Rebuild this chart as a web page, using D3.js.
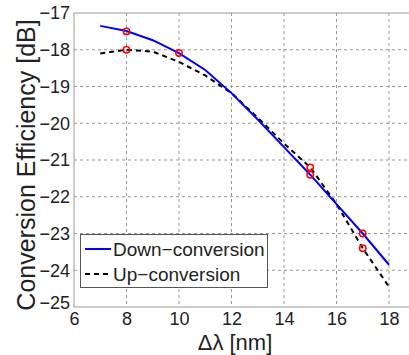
<!DOCTYPE html>
<html>
<head>
<meta charset="utf-8">
<script src="https://cdn.jsdelivr.net/npm/d3@7"></script>
<style>
  body { margin: 0; background: #fff; }
  svg { font-family: "Liberation Sans", Arial, sans-serif; }
</style>
</head>
<body>
<svg width="409" height="355"></svg>
<script>
// data
var xs = [7, 8, 9, 10, 11, 12, 13, 14, 15, 16, 17, 18];
var downConv = [-17.35, -17.49, -17.74, -18.09, -18.55, -19.18, -19.9, -20.65, -21.4, -22.2, -23.0, -23.85];
var upConv = [-18.1, -18.0, -18.05, -18.33, -18.7, -19.18, -19.85, -20.55, -21.2, -22.2, -23.4, -24.45];
var downMarkX = [8, 10, 15, 17];
var downMarkY = [-17.5, -18.09, -21.4, -23.0];
var upMarkX = [8, 15, 17];
var upMarkY = [-18.0, -21.2, -23.4];
var xTicks = [6, 8, 10, 12, 14, 16, 18];
var yTicks = [-17, -18, -19, -20, -21, -22, -23, -24, -25];

var svg = d3.select("svg");

// axis runs to 20, the right part is cut by the frame
var x = d3.scaleLinear().domain([6, 20]).range([74, 441.5]);
var y = d3.scaleLinear().domain([-25, -17]).range([307, 13]);

var fmt = function(d) { return String(d).replace("-", "\u2212"); };

// grid
var grid = svg.append("g");
grid.selectAll(".gx").data(xTicks.slice(1)).enter().append("line")
    .attr("x1", function(d) { return x(d); }).attr("x2", function(d) { return x(d); })
    .attr("y1", y(-17)).attr("y2", y(-25))
    .attr("stroke", "#999").attr("stroke-width", 1).attr("stroke-dasharray", "3,3");
grid.selectAll(".gy").data(yTicks.slice(1, -1)).enter().append("line")
    .attr("x1", x(6)).attr("x2", x(20))
    .attr("y1", function(d) { return y(d); }).attr("y2", function(d) { return y(d); })
    .attr("stroke", "#999").attr("stroke-width", 1).attr("stroke-dasharray", "3,3");

// box
svg.append("rect")
    .attr("x", x(6)).attr("y", y(-17))
    .attr("width", x(20) - x(6)).attr("height", y(-25) - y(-17))
    .attr("fill", "none").attr("stroke", "#999").attr("stroke-width", 1);

// axes
var xAxis = svg.append("g").attr("transform", "translate(0," + y(-25) + ")")
    .call(d3.axisBottom(x).tickValues(xTicks).tickSize(0).tickPadding(4).tickFormat(fmt));
var yAxis = svg.append("g").attr("transform", "translate(" + x(6) + ",0)")
    .call(d3.axisLeft(y).tickValues(yTicks).tickSize(0).tickPadding(4).tickFormat(fmt));
[xAxis, yAxis].forEach(function(a) {
  a.select(".domain").remove();
  a.selectAll("text").attr("font-size", 18).attr("fill", "#222")
    .attr("font-family", "Liberation Sans, Arial, sans-serif");
});
xAxis.selectAll("text").attr("dy", "0.8em");
yAxis.selectAll("text").filter(function(d) { return d === -25; }).attr("dy", "0.1em");

// lines
var line = d3.line()
    .x(function(d) { return x(d[0]); })
    .y(function(d) { return y(d[1]); });

svg.append("path")
    .datum(d3.zip(xs, upConv))
    .attr("d", line)
    .attr("fill", "none").attr("stroke", "#000").attr("stroke-width", 2)
    .attr("stroke-dasharray", "5,4");

svg.append("path")
    .datum(d3.zip(xs, downConv))
    .attr("d", line)
    .attr("fill", "none").attr("stroke", "#0000ff").attr("stroke-width", 2);

// markers
var marks = d3.zip(downMarkX, downMarkY).concat(d3.zip(upMarkX, upMarkY));
svg.selectAll(".mk").data(marks).enter().append("circle")
    .attr("cx", function(d) { return x(d[0]); })
    .attr("cy", function(d) { return y(d[1]); })
    .attr("r", 3.2)
    .attr("fill", "none").attr("stroke", "#ff0000").attr("stroke-width", 1.5);

// legend
var lg = svg.append("g");
lg.append("rect").attr("x", 80.5).attr("y", 234.5).attr("width", 187).attr("height", 53)
    .attr("fill", "#fff").attr("stroke", "#555").attr("stroke-width", 1);
lg.append("line").attr("x1", 85).attr("x2", 111).attr("y1", 249).attr("y2", 249)
    .attr("stroke", "#0000ff").attr("stroke-width", 2);
lg.append("line").attr("x1", 85).attr("x2", 111).attr("y1", 274).attr("y2", 274)
    .attr("stroke", "#000").attr("stroke-width", 2).attr("stroke-dasharray", "5,4");
lg.append("text").attr("x", 113).attr("y", 256).attr("font-size", 19).attr("fill", "#222")
    .text("Down\u2212conversion");
lg.append("text").attr("x", 113).attr("y", 281).attr("font-size", 19).attr("fill", "#222")
    .text("Up\u2212conversion");

// axis titles
svg.append("text")
    .attr("x", 235).attr("y", 350)
    .attr("text-anchor", "middle").attr("font-size", 22).attr("fill", "#222")
    .text("\u0394\u03bb [nm]");
svg.append("text")
    .attr("transform", "translate(35,165) rotate(-90)")
    .attr("text-anchor", "middle").attr("font-size", 25).attr("fill", "#222")
    .text("Conversion Efficiency [dB]");
</script>
</body>
</html>
